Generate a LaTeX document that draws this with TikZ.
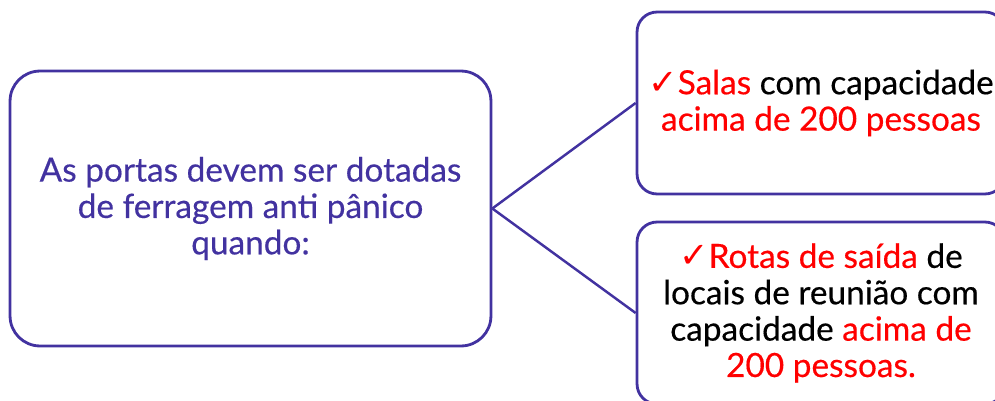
\documentclass[tikz,border=0pt]{standalone}
\usepackage{fontspec}
\setmainfont{Lato}[FakeBold=0.4]
\newfontfamily\simbolos{DejaVu Sans}
\usepackage{tikz}

\definecolor{roxo}{RGB}{66,50,160}
\definecolor{vermelho}{RGB}{255,0,0}
\newcommand{\visto}{\textcolor{vermelho}{\simbolos\fontsize{20}{20}\selectfont ✓}}
\newcommand{\destaque}[1]{\textcolor{vermelho}{#1}}

\begin{document}
\begin{tikzpicture}[x=0.02cm, y=-0.02cm,
    caixa/.style={draw=roxo, line width=1.6pt, align=center,
        font=\fontsize{19}{20.7}\selectfont},
    ligacao/.style={draw=roxo, line width=1.4pt}]
            \useasboundingbox (0,0) rectangle (995,400);
            %
            \node[caixa, text=roxo, rounded corners=0.6cm,
                minimum width=9.62cm, minimum height=5.5cm] (quando) at (250.5,208.5)
                {As portas devem ser dotadas\\de ferragem anti pânico\\quando:};
            %
            \node[caixa, rounded corners=0.4cm,
                minimum width=7.36cm, minimum height=3.64cm] (salas) at (821,103)
                {\visto\destaque{Salas} com capacidade\\\destaque{acima de 200 pessoas}};
            \node[caixa, rounded corners=0.4cm,
                minimum width=7.36cm, minimum height=3.64cm] (rotas) at (821,313)
                {\visto\destaque{Rotas de saída} de\\locais de reunião com\\capacidade \destaque{acima de}\\\destaque{200 pessoas.}};
            %
            \draw[ligacao] (quando.east) -- (salas.west);
            \draw[ligacao] (quando.east) -- (rotas.west);
        \end{tikzpicture}
\end{document}
